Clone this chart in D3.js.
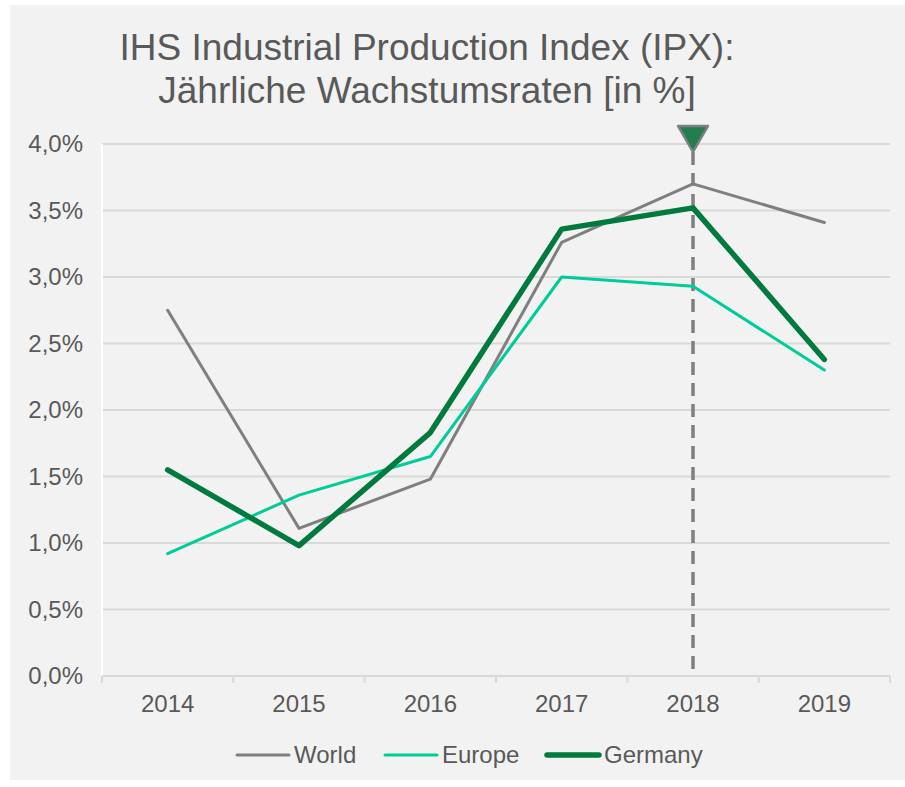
<!DOCTYPE html>
<html>
<head>
<meta charset="utf-8">
<script src="https://cdn.jsdelivr.net/npm/d3@7"></script>
<style>
  body { margin: 0; background: #fff; }
  svg { display: block; font-family: "Liberation Sans", Arial, sans-serif; }
</style>
</head>
<body>
<div id="chart"></div>
<script>
const years = ["2014", "2015", "2016", "2017", "2018", "2019"];
const world = [2.75, 1.11, 1.48, 3.26, 3.70, 3.41];
const europe = [0.92, 1.36, 1.65, 3.00, 2.93, 2.30];
const germany = [1.55, 0.98, 1.83, 3.36, 3.52, 2.38];
const yTicks = [0, 0.5, 1, 1.5, 2, 2.5, 3, 3.5, 4];
const markerYear = "2018";
const titleLines = ["IHS Industrial Production Index (IPX):", "Jährliche Wachstumsraten [in %]"];

const series = [
    {name: "World", values: world, color: "#7f7f7f", width: 3},
    {name: "Europe", values: europe, color: "#00cc99", width: 3},
    {name: "Germany", values: germany, color: "#007a3d", width: 5.5}
];

const W = 905, H = 787;
const margin = {top: 144, right: 15, bottom: 111, left: 102};

const svg = d3.select("#chart").append("svg")
    .attr("width", W)
    .attr("height", H);

// panel background
svg.append("rect")
    .attr("x", 10).attr("y", 5)
    .attr("width", W - 10).attr("height", 775)
    .attr("fill", "#f2f2f2");

const x = d3.scaleBand()
    .domain(years)
    .range([margin.left, W - margin.right]);

const y = d3.scaleLinear()
    .domain([0, 4])
    .range([H - margin.bottom, margin.top]);

// gridlines
svg.append("g")
    .selectAll("line")
    .data(yTicks.filter(d => d > 0))
    .join("line")
    .attr("x1", margin.left).attr("x2", W - margin.right)
    .attr("y1", d => y(d)).attr("y2", d => y(d))
    .attr("stroke", "#d9d9d9")
    .attr("stroke-width", 2);

// y axis (white line) and labels
svg.append("line")
    .attr("x1", margin.left).attr("x2", margin.left)
    .attr("y1", y(4)).attr("y2", y(0))
    .attr("stroke", "#ffffff")
    .attr("stroke-width", 2);

svg.append("g")
    .selectAll("text")
    .data(yTicks)
    .join("text")
    .attr("x", 83)
    .attr("y", d => y(d))
    .attr("dy", "0.35em")
    .attr("text-anchor", "end")
    .attr("fill", "#595959")
    .style("font-size", "24px")
    .text(d => d3.format(".1f")(d).replace(".", ",") + "%");

// x axis
const xAxis = svg.append("g")
    .attr("transform", `translate(0,${y(0)})`);

xAxis.append("line")
    .attr("x1", margin.left).attr("x2", W - margin.right)
    .attr("stroke", "#d9d9d9")
    .attr("stroke-width", 2);

const bounds = years.map(d => x(d)).concat([x(years[years.length - 1]) + x.bandwidth()]);
xAxis.selectAll(".tick")
    .data(bounds)
    .join("line")
    .attr("class", "tick")
    .attr("x1", d => d).attr("x2", d => d)
    .attr("y1", 0).attr("y2", 7)
    .attr("stroke", "#d9d9d9")
    .attr("stroke-width", 2);

xAxis.selectAll(".label")
    .data(years)
    .join("text")
    .attr("class", "label")
    .attr("x", d => x(d) + x.bandwidth() / 2)
    .attr("y", 28)
    .attr("dy", "0.35em")
    .attr("text-anchor", "middle")
    .attr("fill", "#595959")
    .style("font-size", "24px")
    .text(d => d);

// dashed marker line
const mx = x(markerYear) + x.bandwidth() / 2;
svg.append("line")
    .attr("x1", mx).attr("x2", mx)
    .attr("y1", 152).attr("y2", y(0))
    .attr("stroke", "#7f7f7f")
    .attr("stroke-width", 3.5)
    .attr("stroke-dasharray", "13,8");

// lines
const line = d3.line()
    .x((d, i) => x(years[i]) + x.bandwidth() / 2)
    .y(d => y(d));

svg.append("g")
    .selectAll("path")
    .data(series)
    .join("path")
    .attr("d", d => line(d.values))
    .attr("fill", "none")
    .attr("stroke", d => d.color)
    .attr("stroke-width", d => d.width)
    .attr("stroke-linejoin", "round")
    .attr("stroke-linecap", "round");

// triangle marker
svg.append("path")
    .attr("d", `M${mx - 15},${126} L${mx + 15},${126} L${mx},${152} Z`)
    .attr("fill", "#237d4f")
    .attr("stroke", "#7f7f7f")
    .attr("stroke-width", 2.5)
    .attr("stroke-linejoin", "round");

// title
svg.append("g")
    .selectAll("text")
    .data(titleLines)
    .join("text")
    .attr("x", 427)
    .attr("y", (d, i) => 60 + i * 43)
    .attr("text-anchor", "middle")
    .attr("fill", "#595959")
    .style("font-size", "37px")
    .text(d => d);

// legend
const legendPos = [237, 385, 547];
const legend = svg.append("g")
    .selectAll("g")
    .data(series)
    .join("g")
    .attr("transform", (d, i) => `translate(${legendPos[i]},755)`);

legend.append("line")
    .attr("x1", 0).attr("x2", 52)
    .attr("stroke", d => d.color)
    .attr("stroke-width", d => d.width)
    .attr("stroke-linecap", "round");

legend.append("text")
    .attr("x", 57)
    .attr("dy", "0.35em")
    .attr("fill", "#595959")
    .style("font-size", "24px")
    .text(d => d.name);
</script>
</body>
</html>
